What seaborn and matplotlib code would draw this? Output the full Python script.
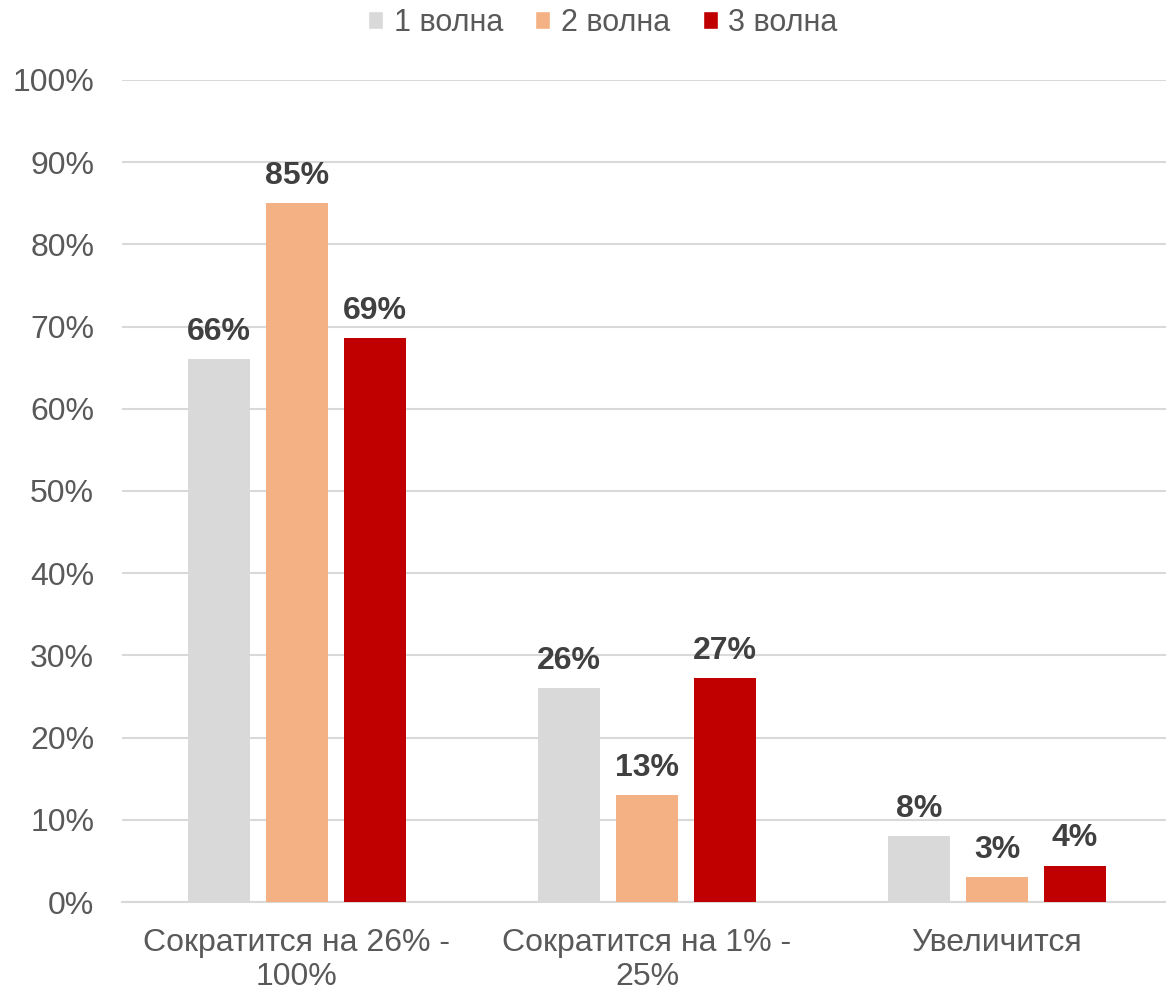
import seaborn as sns
import matplotlib.pyplot as plt
import pandas as pd
from matplotlib.patches import Patch

categories = ["Сократится на 26% -\n100%", "Сократится на 1% -\n25%", "Увеличится"]
waves = ["1 волна", "2 волна", "3 волна"]
wave1 = [66, 26, 8]
wave2 = [85, 13, 3]
wave3 = [68.6, 27.2, 4.4]
colors = ["#d9d9d9", "#f4b183", "#c00000"]
y_ticks = [0, 10, 20, 30, 40, 50, 60, 70, 80, 90, 100]

rows = []
for w, vals in zip(waves, [wave1, wave2, wave3]):
    for c, v in zip(categories, vals):
        rows.append({"cat": c, "wave": w, "val": v})
df = pd.DataFrame(rows)

sns.set_style("white")
plt.rcParams['font.family'] = ['Liberation Sans', 'DejaVu Sans']

fig = plt.figure(figsize=(11.66, 9.9), dpi=100)
ax = fig.add_axes([122 / 1166, 1 - 902 / 990, 1 - 122 / 1166, (902 - 80) / 990])

sns.barplot(data=df, x="cat", y="val", hue="wave", palette=colors, saturation=1,
            width=0.67, gap=0.2, linewidth=0, ax=ax, legend=False, zorder=3)

# value labels
for cont in ax.containers:
    for bar in cont:
        h = bar.get_height()
        ax.annotate(f"{round(h):.0f}%", (bar.get_x() + bar.get_width() / 2, h),
                    xytext=(0, 9), textcoords="offset points",
                    ha="center", va="bottom", fontsize=23, fontweight="bold",
                    color="#404040")

ax.set_ylim(0, 100)
ax.set_xlim(-0.5, 2.483)
ax.set_yticks(y_ticks)
ax.set_yticklabels([f"{t}%" for t in y_ticks])
ax.yaxis.grid(True, color="#d9d9d9", linewidth=1.5, zorder=0)
ax.set_axisbelow(True)
ax.tick_params(axis="y", labelsize=23, labelcolor="#595959", length=0, pad=20)
ax.tick_params(axis="x", labelsize=23, labelcolor="#595959", length=0, pad=19)
for lbl in ax.get_xticklabels():
    lbl.set_linespacing(1.15)
ax.set_xlabel("")
ax.set_ylabel("")
for s in ["top", "right", "left"]:
    ax.spines[s].set_visible(False)
ax.spines["bottom"].set_color("#d9d9d9")
ax.spines["bottom"].set_linewidth(1.5)

handles = [Patch(facecolor=c, label=w) for c, w in zip(colors, waves)]
fig.legend(handles=handles, loc="center", bbox_to_anchor=(0.517, 1 - 23 / 990),
           ncol=3, frameon=False, fontsize=22, handlelength=0.5, handleheight=0.5,
           handletextpad=0.35, columnspacing=1.05, labelcolor="#595959")

plt.savefig("out.png", dpi=100)
